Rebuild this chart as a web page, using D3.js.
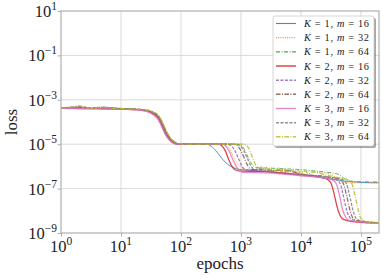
<!DOCTYPE html>
<html><head><meta charset="utf-8">
<script src="https://cdn.jsdelivr.net/npm/d3@7"></script>
<style>
html,body{margin:0;padding:0;background:#fff;}
svg{display:block;}
text{font-family:"Liberation Serif","Times New Roman",serif;fill:#222;}
</style></head>
<body><svg id="c" width="383" height="279"></svg>
<script>
// ---------- data (epoch, loss) ----------
const xTicks = [1, 10, 100, 1000, 10000, 100000];
const xTickExp = ["0", "1", "2", "3", "4", "5"];
const yTicks = [10, 1e-1, 1e-3, 1e-5, 1e-7, 1e-9];
const yTickExp = ["1", "\u22121", "\u22123", "\u22125", "\u22127", "\u22129"];
const seriesK = [1, 1, 1, 2, 2, 2, 3, 3, 3];
const seriesM = [16, 32, 64, 16, 32, 64, 16, 32, 64];
const seriesColors = ["#1f77b4", "#ff7f0e", "#2ca02c", "#d62728", "#9467bd", "#8c564b", "#e377c2", "#7f7f7f", "#bcbd22"];

const k1m16 = [[1,4.2e-4],[1.4,4.15e-4],[2,4.1e-4],[3.2,4.05e-4],[5,4.0e-4],[10,3.9e-4],[20,3.6e-4],[28,3.15e-4],[35,2.4e-4],[42,1.58e-4],[48,7.9e-5],[55,3.5e-5],[63,1.9e-5],[74,1.2e-5],[89,1.02e-5],[126,1e-5],[200,1e-5],[263,1e-5],[316,8.3e-6],[398,4.47e-6],[501,2.0e-6],[631,1.12e-6],[794,8.3e-7],[1000,7.1e-7],[1995,6.3e-7],[3162,5.6e-7],[10000,4.0e-7],[25119,2.95e-7],[50119,2.24e-7],[100000,1.9e-7],[200000,1.82e-7]];
const k1m32 = [[1,4.25e-4],[1.4,4.3e-4],[2,4.2e-4],[3.2,4.1e-4],[5,4.05e-4],[10,3.9e-4],[20,3.6e-4],[28,3.2e-4],[35,2.5e-4],[42,1.7e-4],[48,8.5e-5],[55,3.8e-5],[63,2.0e-5],[74,1.25e-5],[89,1.03e-5],[126,1e-5],[200,1e-5],[501,1e-5],[562,9.3e-6],[661,5.6e-6],[759,2.5e-6],[891,1.26e-6],[1047,8.3e-7],[1259,7.1e-7],[3162,7.1e-7],[10000,6.0e-7],[25119,5.0e-7],[31623,4.47e-7],[38019,3.16e-7],[45709,2.2e-7],[56234,1.9e-7],[100000,1.82e-7],[200000,1.82e-7]];
const k1m64 = [[1,4.3e-4],[1.4,4.4e-4],[2,4.6e-4],[3.2,4.2e-4],[5,4.3e-4],[10,4.0e-4],[20,3.65e-4],[28,3.25e-4],[35,2.6e-4],[42,1.8e-4],[48,9.5e-5],[55,4.2e-5],[63,2.1e-5],[74,1.3e-5],[89,1.04e-5],[126,1e-5],[200,1e-5],[851,1e-5],[1000,9.1e-6],[1148,5.6e-6],[1318,2.5e-6],[1514,1.26e-6],[1778,8.9e-7],[3162,8.3e-7],[10000,7.1e-7],[25119,5.6e-7],[35481,5.0e-7],[41687,4.47e-7],[50119,3.16e-7],[60256,2.3e-7],[79433,2.1e-7],[200000,2.0e-7]];
const k2m16 = [[1,4.15e-4],[1.4,4.1e-4],[2,4.05e-4],[3.2,4.0e-4],[5,3.95e-4],[10,3.85e-4],[20,3.5e-4],[28,3.0e-4],[35,2.2e-4],[42,1.4e-4],[48,6.8e-5],[55,3.0e-5],[63,1.7e-5],[74,1.15e-5],[89,1.01e-5],[126,1e-5],[200,1e-5],[417,1e-5],[479,8.5e-6],[550,5.0e-6],[617,2.2e-6],[692,1.12e-6],[794,7.1e-7],[933,6.3e-7],[3162,5.6e-7],[10000,4.2e-7],[22387,3.16e-7],[28184,2.5e-7],[31623,1.78e-7],[35481,6.3e-8],[39811,1.58e-8],[44668,6.3e-9],[50119,4.2e-9],[63096,3.5e-9],[100000,3.0e-9],[200000,2.8e-9]];
const k2m32 = [[1,4.2e-4],[1.4,4.2e-4],[2,4.3e-4],[3.2,4.1e-4],[5,4.1e-4],[10,3.9e-4],[20,3.6e-4],[28,3.15e-4],[35,2.45e-4],[42,1.65e-4],[48,8.2e-5],[55,3.7e-5],[63,1.95e-5],[74,1.22e-5],[89,1.02e-5],[126,1e-5],[200,1e-5],[603,1e-5],[692,8.5e-6],[794,5.0e-6],[912,2.2e-6],[1047,1.0e-6],[1202,7.1e-7],[2512,6.3e-7],[3162,5.6e-7],[10000,4.2e-7],[25119,3.2e-7],[41687,2.24e-7],[46774,1.26e-7],[52481,3.16e-8],[58884,8.9e-9],[66069,4.8e-9],[74131,3.8e-9],[100000,3.2e-9],[200000,2.8e-9]];
const k2m64 = [[1,4.3e-4],[1.4,4.5e-4],[2,4.8e-4],[3.2,4.3e-4],[5,4.5e-4],[10,4.0e-4],[20,3.7e-4],[28,3.3e-4],[35,2.65e-4],[42,1.85e-4],[48,1.0e-4],[55,4.4e-5],[63,2.2e-5],[74,1.35e-5],[89,1.05e-5],[126,1e-5],[200,1e-5],[759,1e-5],[871,8.5e-6],[1000,5.0e-6],[1148,2.2e-6],[1318,1.0e-6],[1514,7.1e-7],[2239,7.6e-7],[3162,6.3e-7],[5012,6.9e-7],[10000,4.5e-7],[25119,3.5e-7],[45709,2.5e-7],[51286,1.6e-7],[57544,5.0e-8],[64565,1.26e-8],[72444,5.0e-9],[81283,3.8e-9],[125893,3.2e-9],[200000,2.9e-9]];
const k3m16 = [[1,4.1e-4],[1.4,4.05e-4],[2,4.0e-4],[3.2,3.95e-4],[5,3.9e-4],[10,3.8e-4],[20,3.45e-4],[28,2.85e-4],[35,2.05e-4],[42,1.25e-4],[48,6.0e-5],[55,2.7e-5],[63,1.6e-5],[74,1.12e-5],[89,1.01e-5],[126,1e-5],[200,1e-5],[479,1e-5],[550,8.5e-6],[631,5.0e-6],[724,2.2e-6],[832,1.0e-6],[955,6.3e-7],[1122,5.4e-7],[3162,5.0e-7],[10000,3.8e-7],[25119,3.0e-7],[35481,2.24e-7],[39811,1.41e-7],[44668,4.0e-8],[50119,1.0e-8],[56234,5.0e-9],[63096,3.8e-9],[100000,3.2e-9],[200000,2.8e-9]];
const k3m32 = [[1,4.3e-4],[1.4,4.6e-4],[2,4.9e-4],[3.2,4.4e-4],[5,4.6e-4],[10,4.05e-4],[20,3.7e-4],[28,3.35e-4],[35,2.7e-4],[42,1.9e-4],[48,1.05e-4],[55,4.6e-5],[63,2.3e-5],[74,1.4e-5],[89,1.06e-5],[126,1e-5],[200,1e-5],[851,1e-5],[977,8.5e-6],[1122,5.0e-6],[1288,2.2e-6],[1479,1.0e-6],[1698,7.1e-7],[2000,8.0e-7],[2400,6.2e-7],[2900,7.6e-7],[3500,5.9e-7],[4300,7.0e-7],[5300,5.5e-7],[6500,6.3e-7],[10000,4.5e-7],[25119,3.5e-7],[50119,2.5e-7],[57544,1.6e-7],[64565,5.0e-8],[72444,1.26e-8],[81283,5.0e-9],[91201,3.8e-9],[125893,3.2e-9],[200000,2.9e-9]];
const k3m64 = [[1,4.3e-4],[1.4,4.5e-4],[2,5.4e-4],[2.5,4.6e-4],[3.2,4.2e-4],[4,4.4e-4],[5,4.8e-4],[6.3,4.2e-4],[10,4.0e-4],[20,3.7e-4],[28,3.4e-4],[35,2.8e-4],[42,2.0e-4],[48,1.1e-4],[55,4.9e-5],[63,2.4e-5],[74,1.45e-5],[89,1.08e-5],[126,1e-5],[200,1e-5],[1096,1e-5],[1259,8.5e-6],[1413,5.0e-6],[1585,2.2e-6],[1778,1.1e-6],[1995,8.3e-7],[2200,9.6e-7],[2450,6.4e-7],[2700,9.3e-7],[3000,6.2e-7],[3350,9.0e-7],[3750,6.0e-7],[4200,8.5e-7],[4700,5.8e-7],[5300,8.0e-7],[6000,5.5e-7],[6800,7.5e-7],[7700,5.2e-7],[8800,6.9e-7],[10000,5.0e-7],[11500,6.4e-7],[13500,4.7e-7],[16000,5.6e-7],[25119,4.2e-7],[39811,3.2e-7],[60256,2.5e-7],[70795,1.6e-7],[79433,5.0e-8],[89125,1.26e-8],[97724,5.0e-9],[109648,3.8e-9],[141254,3.0e-9],[200000,2.8e-9]];

const seriesData = [k1m16, k1m32, k1m64, k2m16, k2m32, k2m64, k3m16, k3m32, k3m64];
const seriesDash = [null, "1,1.2", "4,1.5,1,1.5", null, "3,1.5", "4.5,1.5,1,1.5", null, "3,1.5", "4.5,1.5,1,1.5"];
const seriesWidth = [0.9, 0.9, 0.9, 1.3, 1.3, 1.3, 1.3, 1.3, 1.3];

// ---------- layout ----------
const svg = d3.select("#c");
const L = 61, R = 379, T = 11, B = 233;
const x = d3.scaleLog().domain([1, 2e5]).range([L, R]);
const y = d3.scaleLog().domain([1e-9, 10]).range([B, T]);
const gridCol = "#d0d0d0", spineCol = "#b0b0b0";

// grid
svg.append("g").selectAll("line").data(xTicks.slice(1)).join("line")
  .attr("x1", d => x(d)).attr("x2", d => x(d)).attr("y1", T).attr("y2", B)
  .attr("stroke", gridCol).attr("stroke-width", 0.8);
svg.append("g").selectAll("line").data(yTicks.slice(1, -1)).join("line")
  .attr("y1", d => y(d)).attr("y2", d => y(d)).attr("x1", L).attr("x2", R)
  .attr("stroke", gridCol).attr("stroke-width", 0.8);

// lines
svg.append("clipPath").attr("id", "clp").append("rect")
  .attr("x", L).attr("y", T).attr("width", R - L).attr("height", B - T);
const line = d3.line().x(d => x(d[0])).y(d => y(d[1])).curve(d3.curveMonotoneX);
const lg = svg.append("g").attr("clip-path", "url(#clp)");
seriesData.forEach((s, i) => {
  lg.append("path").datum(s).attr("d", line).attr("fill", "none")
    .attr("stroke", seriesColors[i]).attr("stroke-width", seriesWidth[i])
    .attr("stroke-opacity", 0.85)
    .attr("stroke-dasharray", seriesDash[i]);
});

// spines
svg.append("rect").attr("x", L).attr("y", T).attr("width", R - L).attr("height", B - T)
  .attr("fill", "none").attr("stroke", spineCol).attr("stroke-width", 1.2);

// axes via d3 axis (ticks only), labels custom
const xa = svg.append("g").attr("transform", `translate(0,${B})`)
  .call(d3.axisBottom(x).tickValues(xTicks).tickSize(3.5).tickFormat(""));
const ya = svg.append("g").attr("transform", `translate(${L},0)`)
  .call(d3.axisLeft(y).tickValues(yTicks).tickSize(3.5).tickFormat(""));
[xa, ya].forEach(a => { a.select(".domain").remove(); a.selectAll("line").attr("stroke", spineCol).attr("stroke-width", 1); });

xTicks.forEach((v, i) => {
  const t = svg.append("text").attr("x", x(v)).attr("y", 251.5).attr("text-anchor", "middle")
    .attr("font-size", 16.5);
  t.append("tspan").text("10");
  t.append("tspan").attr("dy", -7).attr("font-size", 11.5).text(xTickExp[i]);
});
yTicks.forEach((v, i) => {
  const t = svg.append("text").attr("x", 57).attr("y", y(v) + 6).attr("text-anchor", "end")
    .attr("font-size", 16.5);
  t.append("tspan").text("10");
  t.append("tspan").attr("dy", -7).attr("font-size", 11.5).text(yTickExp[i]);
});

svg.append("text").attr("x", (L + R) / 2).attr("y", 268.5).attr("text-anchor", "middle")
  .attr("font-size", 17).text("epochs");
svg.append("text").attr("transform", `translate(17,${(T + B) / 2}) rotate(-90)`)
  .attr("text-anchor", "middle").attr("font-size", 17).text("loss");

// legend
const lgX = 273, lgY = 16, lgW = 101, lgH = 130;
svg.append("rect").attr("x", lgX + 2).attr("y", lgY + 2).attr("width", lgW).attr("height", lgH)
  .attr("rx", 2).attr("fill", "#000").attr("fill-opacity", 0.35);
svg.append("rect").attr("x", lgX).attr("y", lgY).attr("width", lgW).attr("height", lgH)
  .attr("rx", 2).attr("fill", "#fff").attr("stroke", "#cccccc").attr("stroke-width", 0.8);
seriesData.forEach((s, i) => {
  const yy = 23.5 + i * 14.17;
  svg.append("line").attr("x1", 276).attr("x2", 296).attr("y1", yy).attr("y2", yy)
    .attr("stroke", seriesColors[i]).attr("stroke-width", seriesWidth[i] + 0.2)
    .attr("stroke-opacity", 0.85).attr("stroke-dasharray", seriesDash[i]);
  const t = svg.append("text").attr("x", 304).attr("y", yy + 3.5).attr("font-size", 10.3)
    .attr("textLength", 65).attr("lengthAdjust", "spacing");
  t.append("tspan").attr("font-style", "italic").text("K");
  t.append("tspan").text(" = " + seriesK[i] + ", ");
  t.append("tspan").attr("font-style", "italic").text("m");
  t.append("tspan").text(" = " + seriesM[i]);
});
</script></body></html>
